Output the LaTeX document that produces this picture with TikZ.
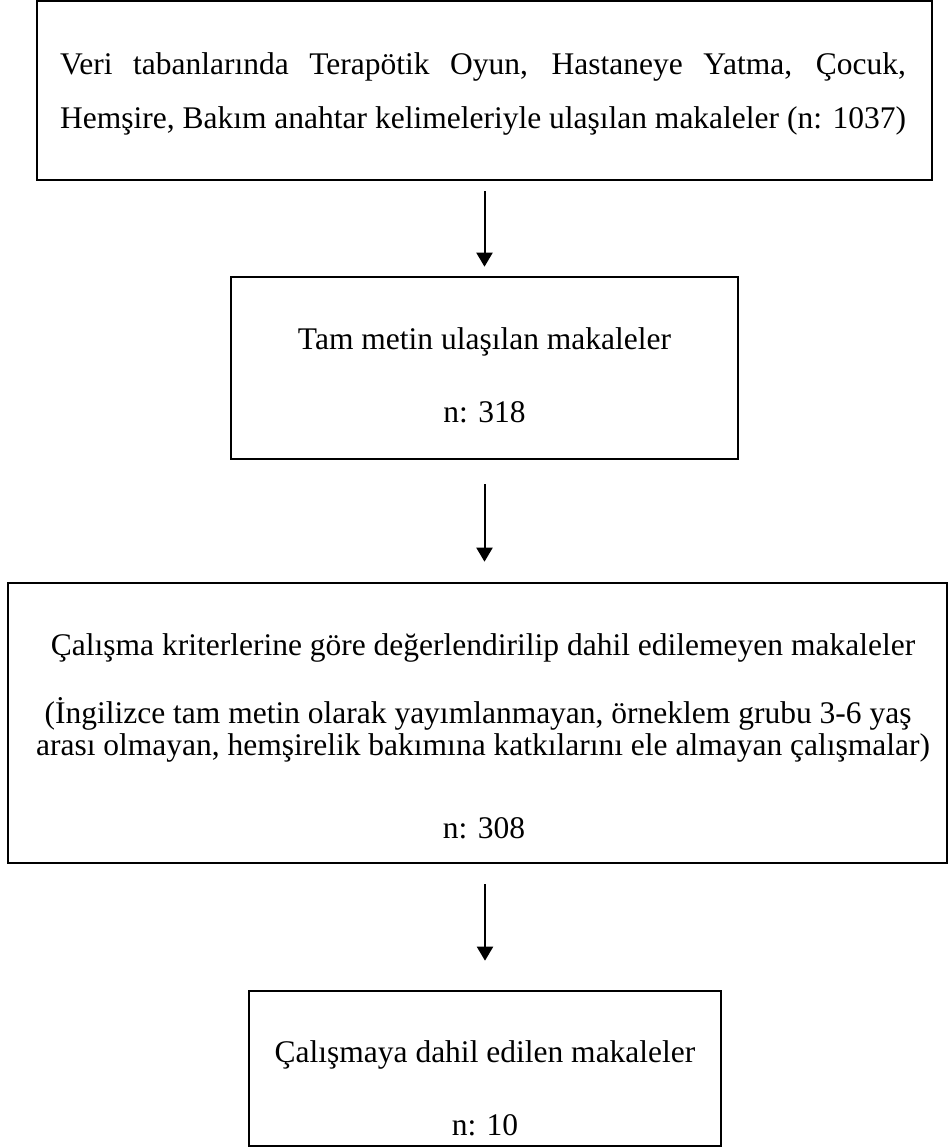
\documentclass[tikz,border=0pt]{standalone}
\usepackage{fontspec}
\setmainfont{Liberation Serif}
\usetikzlibrary{arrows.meta}
\newsavebox\boxlinetwo
\begin{document}
\sbox\boxlinetwo{\fontsize{15.75}{18}\selectfont Hemşire, Bakım anahtar kelimeleriyle ulaşılan makaleler (n: 1037)}%
\begin{tikzpicture}[x=0.5pt,y=-0.5pt,
  box/.style={draw, line width=1.3pt, inner sep=0pt},
  txt/.style={inner sep=0pt, anchor=base, font=\fontsize{15.75}{18}\selectfont},
  arr/.style={line width=1pt, -{Triangle[length=7pt,width=8pt]}}]
\useasboundingbox (0,0) rectangle (949,1148);
\fill[white] (0,0) rectangle (949,1148);
% boxes
\node[box, minimum width=447.5pt, minimum height=89.5pt] (b1) at (484.5,90.5) {};
\node[box, minimum width=253.5pt, minimum height=91pt] (b2) at (484.5,368) {};
\node[box, minimum width=469.5pt, minimum height=140pt] (b3) at (477.5,723) {};
\node[box, minimum width=236pt, minimum height=77.5pt] (b4) at (485,1068.5) {};
% box 1 text
\node[txt] (t1a) at (483,74) {\makebox[\wd\boxlinetwo][s]{Veri tabanlarında Terapötik Oyun, Hastaneye Yatma, Çocuk,}};
\node[txt] (t1b) at (483,128) {\usebox\boxlinetwo};
% box 2 text
\node[txt] (t2a) at (484.5,349) {Tam metin ulaşılan makaleler};
\node[txt] (t2b) at (484.5,422) {n: 318};
% box 3 text
\node[txt] (t3a) at (483,655) {Çalışma kriterlerine göre değerlendirilip dahil edilemeyen makaleler};
\node[txt] (t3b) at (478,723) {(İngilizce tam metin olarak yayımlanmayan, örneklem grubu 3-6 yaş};
\node[txt] (t3c) at (483,755) {arası olmayan, hemşirelik bakımına katkılarını ele almayan çalışmalar)};
\node[txt] (t3d) at (484,838) {n: 308};
% box 4 text
\node[txt] (t4a) at (485,1062) {Çalışmaya dahil edilen makaleler};
\node[txt] (t4b) at (485,1135) {n: 10};
% arrows
\draw[arr, shorten <=5pt, shorten >=4.5pt] (b1.south) -- (b1.south |- b2.north);
\draw[arr, shorten <=12pt, shorten >=10pt] (b2.south) -- (b2.south |- b3.north);
\draw[arr, shorten <=10pt, shorten >=14.5pt] (b4.north |- b3.south) -- (b4.north);
\end{tikzpicture}
\end{document}
